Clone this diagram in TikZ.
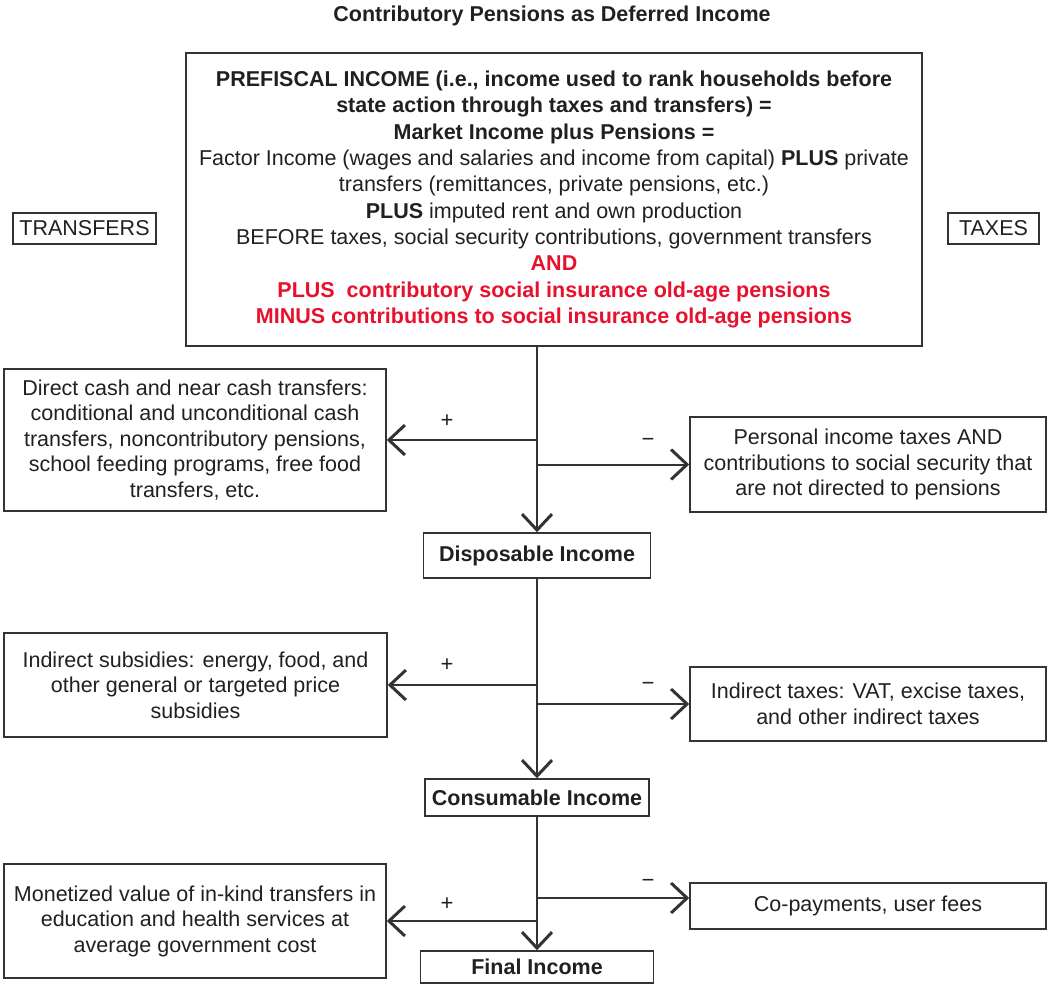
\documentclass[tikz,border=0pt]{standalone}
\usepackage{fontspec}
\setmainfont{Liberation Sans}
\usetikzlibrary{arrows.meta}
\definecolor{ink}{HTML}{231F20}
\definecolor{redtxt}{HTML}{E8112D}
\definecolor{linec}{HTML}{333333}
\begin{document}
\begin{tikzpicture}[x=1pt,y=-1pt,
  box/.style={draw=linec, line width=1.5pt, rectangle, inner sep=0pt, align=center,
    text=ink, font=\fontsize{21.5}{25.5}\selectfont},
  incomebox/.style={box, font=\fontsize{21.5}{25.5}\selectfont\bfseries},
  conn/.style={draw=linec, line width=2pt},
  arr/.style={conn, -{Straight Barb[length=16pt,width=30pt,line width=3pt]}},
  sign/.style={text=ink, font=\fontsize{22}{22}\selectfont, inner sep=0pt}
]
\useasboundingbox (0,0) rectangle (1048,983);

\node[font=\fontsize{21.5}{25}\selectfont\bfseries, text=ink, inner sep=0pt] (title) at (552,16) {Contributory Pensions as Deferred Income};

\node[box, minimum width=736pt, minimum height=293pt, font=\fontsize{21.5}{26.3}\selectfont] (pre) at (554,199.5) {%
\textbf{PREFISCAL INCOME (i.e., income used to rank households before}\\
\textbf{state action through taxes and transfers) =}\\
\textbf{Market Income plus Pensions =}\\
Factor Income (wages and salaries and income from capital) \textbf{PLUS} private\\
transfers (remittances, private pensions, etc.)\\
\textbf{PLUS} imputed rent and own production\\
BEFORE taxes, social security contributions, government transfers\\
\textcolor{redtxt}{\textbf{AND}}\\
\textcolor{redtxt}{\textbf{PLUS\ \ contributory social insurance old-age pensions}}\\
\textcolor{redtxt}{\textbf{MINUS contributions to social insurance old-age pensions}}};

\node[box, minimum width=143pt, minimum height=31pt] (transfers) at (84.5,228.5) {TRANSFERS};
\node[box, minimum width=91pt, minimum height=31pt] (taxes) at (993.5,228.5) {TAXES};

\node[box, minimum width=382pt, minimum height=142pt] (l1) at (195,440) {%
Direct cash and near cash transfers:\\
conditional and unconditional cash\\
transfers, noncontributory pensions,\\
school feeding programs, free food\\
transfers, etc.};
\node[box, minimum width=356pt, minimum height=95pt] (r1) at (868,464.5) {%
Personal income taxes AND\\
contributions to social security that\\
are not directed to pensions};
\node[incomebox, minimum width=227pt, minimum height=45pt] (disp) at (537,555.5) {Disposable Income};

\node[box, minimum width=383pt, minimum height=104pt] (l2) at (195.5,685) {%
Indirect subsidies: energy, food, and\\
other general or targeted price\\
subsidies};
\node[box, minimum width=356pt, minimum height=74pt] (r2) at (868,704) {%
Indirect taxes: VAT, excise taxes,\\
and other indirect taxes};
\node[incomebox, minimum width=224pt, minimum height=37pt] (cons) at (537,797.5) {Consumable Income};

\node[box, minimum width=382pt, minimum height=114pt] (l3) at (195,921) {%
Monetized value of in-kind transfers in\\
education and health services at\\
average government cost};
\node[box, minimum width=356pt, minimum height=46pt] (r3) at (868,906) {Co-payments, user fees};
\node[incomebox, minimum width=233pt, minimum height=32pt] (final) at (537,967) {Final Income};

% level 1
\coordinate (t1) at (disp.north |- pre.south);
\draw[arr] (t1) -- (disp.north);
\draw[arr] (disp.north |- l1.east) -- (l1.east);
\draw[arr] (disp.north |- r1.west) -- (r1.west);
\node[sign] (p1) at (447,421) {+};
\node[sign] (m1) at (648,442) {−};

% level 2
\coordinate (t2) at (cons.north |- disp.south);
\draw[arr] (t2) -- (cons.north);
\draw[arr] (cons.north |- l2.east) -- (l2.east);
\draw[arr] (cons.north |- r2.west) -- (r2.west);
\node[sign] (p2) at (447,665) {+};
\node[sign] (m2) at (648,686) {−};

% level 3
\coordinate (t3) at (final.north |- cons.south);
\coordinate (b3r) at (537,898);
\draw[arr] (t3) -- (final.north);
\draw[arr] (final.north |- l3.east) -- (l3.east);
\draw[arr] (b3r) -- (b3r -| r3.west);
\node[sign] (p3) at (447,904) {+};
\node[sign] (m3) at (648,883) {−};
\end{tikzpicture}
\end{document}
